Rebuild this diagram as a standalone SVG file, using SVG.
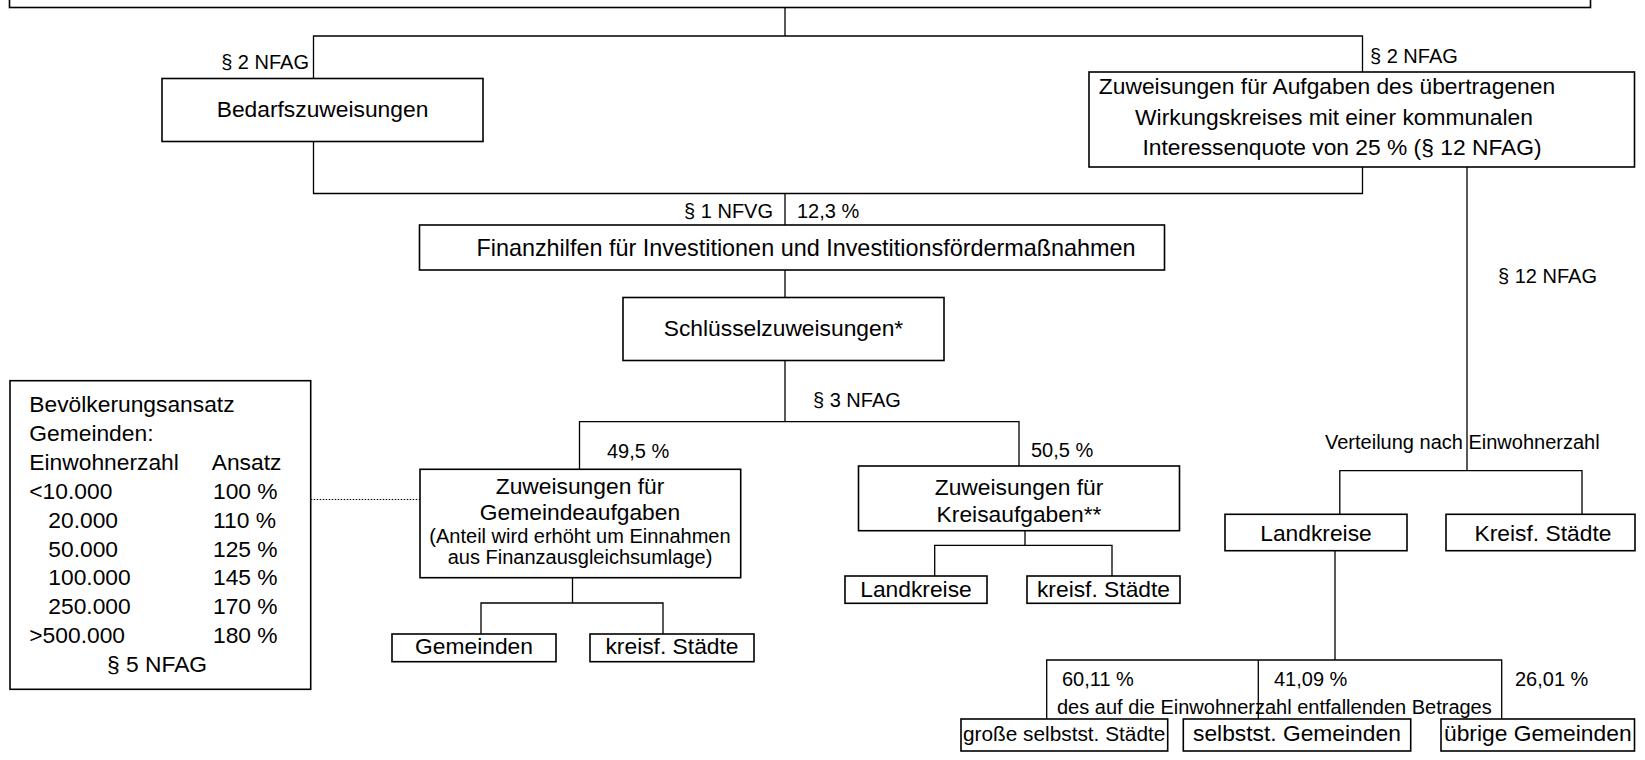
<svg xmlns="http://www.w3.org/2000/svg" width="1645" height="760" viewBox="0 0 1645 760">
  <style>
    .box { fill: #ffffff; stroke: #000000; stroke-width: 1.6; }
    .ln { fill: none; stroke: #000000; stroke-width: 1.3; }
    .dot { fill: none; stroke: #000000; stroke-width: 1.2; stroke-dasharray: 1.5 1.5; }
    text { font-family: "Liberation Sans", Arial, sans-serif; font-size: 22.8px; fill: #000000; }
    .s { font-size: 20px; }
    .m { text-anchor: middle; }
    .e { text-anchor: end; }
  </style>
  <rect width="1645" height="760" fill="#ffffff"/>

  <!-- connectors -->
  <g id="connectors">
    <path class="ln" d="M785 7.5 V36 M313.5 78.5 V36 H1362.5 V72"/>
    <path class="ln" d="M313.5 141.5 V193.5 H1362.5 V167 M785 193.5 V225"/>
    <path class="ln" d="M785 270 V297.5 M785 360.5 V421.7"/>
    <path class="ln" d="M579.5 469.3 V421.7 H1019 V466"/>
    <path class="ln" d="M572.5 577.7 V603 M481 634 V603 H663 V634"/>
    <path class="ln" d="M1025 530.7 V545.3 M934.7 576 V545.3 H1112 V576"/>
    <path class="ln" d="M1467 167 V470.7 M1339.8 514.3 V470.7 H1582 V514.3"/>
    <path class="ln" d="M1335 550.7 V660 M1046.7 719 V660 H1501.7 V719 M1258.3 660 V719"/>
    <path class="dot" d="M310.7 499.5 H420"/>
  </g>

  <!-- top-level pool, only its lower edge is in view -->
  <g id="node-top">
    <rect class="box" x="9.5" y="-60" width="1581" height="67.5"/>
  </g>

  <g id="node-bedarf">
    <rect class="box" x="162" y="78.5" width="321" height="63"/>
    <text class="s e" x="309" y="69">§ 2 NFAG</text>
    <text class="m" x="322.5" y="117">Bedarfszuweisungen</text>
  </g>

  <g id="node-auftrag">
    <rect class="box" x="1089" y="72" width="545.5" height="95"/>
    <text class="s" x="1370" y="63">§ 2 NFAG</text>
    <text class="m" x="1327" y="94">Zuweisungen für Aufgaben des übertragenen</text>
    <text class="m" x="1334" y="125">Wirkungskreises mit einer kommunalen</text>
    <text class="m" x="1342" y="155">Interessenquote von 25 % (§ 12 NFAG)</text>
  </g>

  <g id="node-finanzhilfen">
    <rect class="box" x="419.5" y="225" width="745" height="45"/>
    <text class="s e" x="773" y="218">§ 1 NFVG</text>
    <text class="s" x="797" y="218">12,3 %</text>
    <text class="m" x="806" y="256" style="font-size:23.4px">Finanzhilfen für Investitionen und Investitionsfördermaßnahmen</text>
  </g>

  <g id="node-schluessel">
    <rect class="box" x="623" y="297.5" width="321" height="63"/>
    <text class="m" x="783.5" y="336">Schlüsselzuweisungen*</text>
    <text class="s" x="813" y="407">§ 3 NFAG</text>
  </g>

  <g id="node-bevoelkerung">
    <rect class="box" x="10" y="380.7" width="300.7" height="308.6"/>
    <text x="29.3" y="412">Bevölkerungsansatz</text>
    <text x="29.3" y="441">Gemeinden:</text>
    <text x="29.3" y="470">Einwohnerzahl</text>
    <text x="211.7" y="470">Ansatz</text>
    <text x="29.3" y="498.5">&lt;10.000</text>
    <text x="213" y="498.5">100 %</text>
    <text x="48.3" y="527.5">20.000</text>
    <text x="213" y="527.5">110 %</text>
    <text x="48.3" y="556.5">50.000</text>
    <text x="213" y="556.5">125 %</text>
    <text x="48.3" y="585">100.000</text>
    <text x="213" y="585">145 %</text>
    <text x="48.3" y="614">250.000</text>
    <text x="213" y="614">170 %</text>
    <text x="29.3" y="642.5">&gt;500.000</text>
    <text x="213" y="642.5">180 %</text>
    <text x="107" y="671.5">§ 5 NFAG</text>
  </g>

  <g id="node-gemeindeaufgaben">
    <rect class="box" x="420" y="469.3" width="320.7" height="108.4"/>
    <text class="s" x="607" y="458">49,5 %</text>
    <text class="m" x="580" y="494">Zuweisungen für</text>
    <text class="m" x="580" y="520">Gemeindeaufgaben</text>
    <text class="s m" x="580" y="543">(Anteil wird erhöht um Einnahmen</text>
    <text class="s m" x="580" y="564">aus Finanzausgleichsumlage)</text>
  </g>

  <g id="node-kreisaufgaben">
    <rect class="box" x="858.5" y="466" width="321" height="64.7"/>
    <text class="s" x="1031" y="457">50,5 %</text>
    <text class="m" x="1019" y="495">Zuweisungen für</text>
    <text class="m" x="1019" y="522">Kreisaufgaben**</text>
  </g>

  <g id="node-gemeinden">
    <rect class="box" x="392" y="634" width="164" height="27.7"/>
    <text class="m" x="474" y="654">Gemeinden</text>
  </g>

  <g id="node-kreisf-staedte-1">
    <rect class="box" x="590" y="634" width="164" height="27.7"/>
    <text class="m" x="672" y="654">kreisf. Städte</text>
  </g>

  <g id="node-landkreise-1">
    <rect class="box" x="845" y="576" width="142" height="27.3"/>
    <text class="m" x="916" y="597">Landkreise</text>
  </g>

  <g id="node-kreisf-staedte-2">
    <rect class="box" x="1027" y="576" width="153" height="27.3"/>
    <text class="m" x="1103.5" y="597">kreisf. Städte</text>
  </g>

  <g id="node-verteilung">
    <text class="s" x="1498" y="283">§ 12 NFAG</text>
    <text class="s" x="1325" y="449">Verteilung nach Einwohnerzahl</text>
  </g>

  <g id="node-landkreise-2">
    <rect class="box" x="1225" y="514.3" width="182" height="36.4"/>
    <text class="m" x="1316" y="541">Landkreise</text>
  </g>

  <g id="node-kreisf-staedte-3">
    <rect class="box" x="1446" y="514.3" width="189" height="36.4"/>
    <text class="m" x="1543" y="541">Kreisf. Städte</text>
  </g>

  <g id="node-anteile">
    <text class="s" x="1062" y="686">60,11 %</text>
    <text class="s" x="1274" y="686">41,09 %</text>
    <text class="s" x="1515" y="686">26,01 %</text>
    <text class="s" x="1057" y="714">des auf die Einwohnerzahl entfallenden Betrages</text>
  </g>

  <g id="node-grosse-staedte">
    <rect class="box" x="961" y="719" width="206.7" height="32"/>
    <text x="963" y="741" style="font-size:20.8px">große selbstst. Städte</text>
  </g>

  <g id="node-selbst-gemeinden">
    <rect class="box" x="1183.3" y="719" width="227.4" height="32"/>
    <text x="1193" y="741">selbstst. Gemeinden</text>
  </g>

  <g id="node-uebrige">
    <rect class="box" x="1441" y="719" width="193.5" height="32"/>
    <text x="1444" y="741">übrige Gemeinden</text>
  </g>
</svg>
